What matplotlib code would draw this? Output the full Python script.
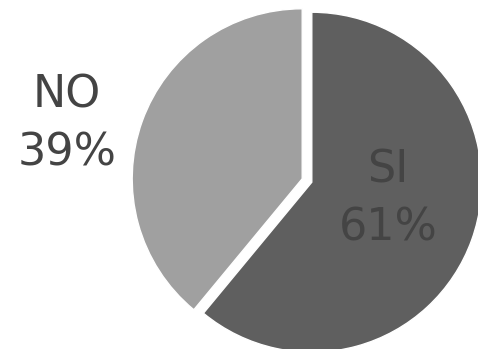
import matplotlib
matplotlib.use("Agg")
import matplotlib.pyplot as plt

# Survey answer split
labels = ["SI", "NO"]
values = [61, 39]
colors = ["#5f5f5f", "#a0a0a0"]
explode = [0.03, 0.03]

# label anchor positions in data units (pie radius = 1)
label_pos = [(0.476, -0.109), (-1.412, 0.332)]

W, H, DPI = 478, 349, 100
fig = plt.figure(figsize=(W / DPI, H / DPI), dpi=DPI)
ax = fig.add_axes([0, 0, 1, 1])

ax.pie(values, colors=colors, explode=explode, startangle=90,
       counterclock=False, radius=1.0,
       wedgeprops=dict(edgecolor="white", linewidth=1.0))

# pie center sits at (307, 180.5) px, radius 170 px
cx, cy, r = 307, 180.5, 170
ax.set_xlim(-cx / r, (W - cx) / r)
ax.set_ylim(-(H - cy) / r, cy / r)
ax.set_aspect("auto")
ax.axis("off")

for lab, val, (x, y) in zip(labels, values, label_pos):
    ax.text(x, y, f"{lab}\n{val}%", ha="center", va="center",
            fontsize=32, color="#444444", linespacing=1.45,
            family="DejaVu Sans")

fig.savefig("out.png", dpi=DPI, facecolor="white")
